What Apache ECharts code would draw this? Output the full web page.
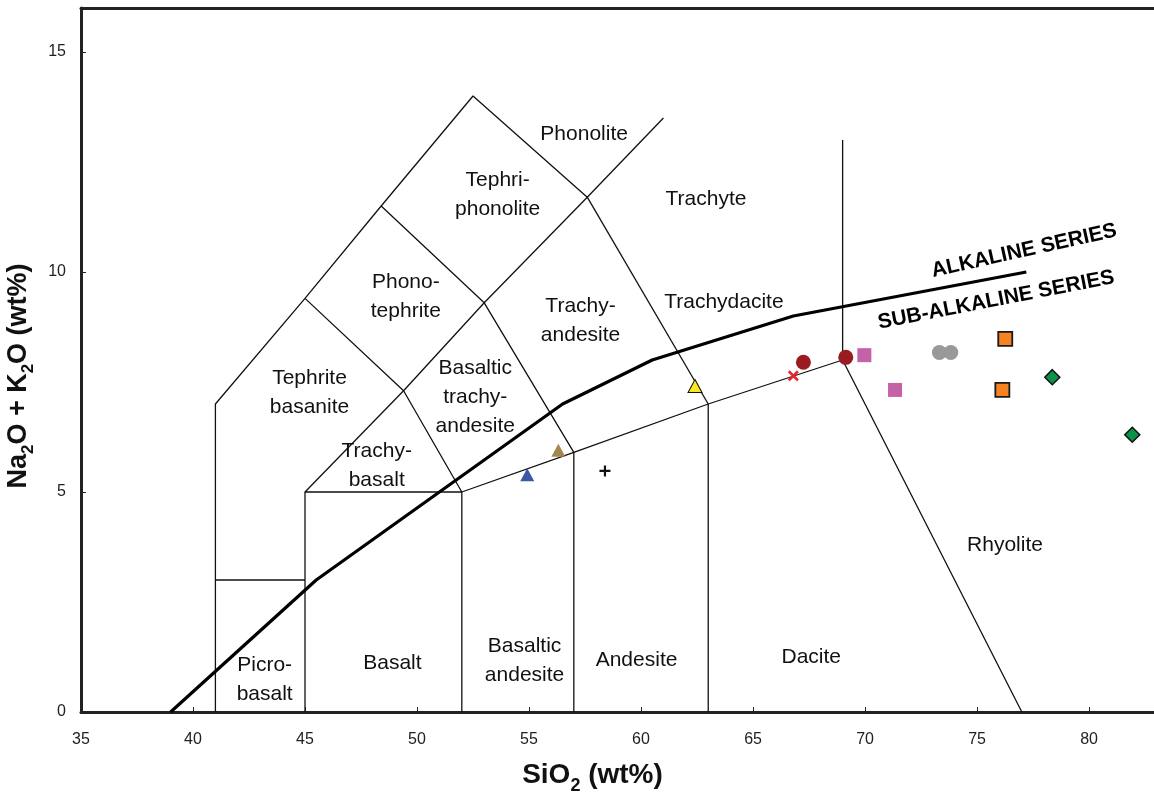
<!DOCTYPE html>
<html><head><meta charset="utf-8">
<script src="https://cdn.jsdelivr.net/npm/echarts@6/dist/echarts.min.js"></script>
<style>html,body{margin:0;padding:0;background:#fff}#c{width:1154px;height:796px}</style>
</head><body><div id="c"></div>
<script>
// Axis ranges / ticks
const xRange = [35, 82.9];
const yRange = [0, 16];
const tickStep = 5;

// TAS field boundaries (SiO2, Na2O+K2O)
const lineOuter = [[41,0],[41,7],[45,9.4],[48.4,11.5],[52.5,14],[57.6,11.7],[61,13.5]];
const linePicro = [[41,3],[45,3]];
const lineLower = [[45,0],[45,5],[52,5],[57,5.9],[63,7],[69,8],[77,0]];
const lineBA = [[52,0],[52,5]];
const lineAnd = [[57,0],[57,5.9]];
const lineDac = [[63,0],[63,7]];
const lineRhy = [[69,8],[69,13]];
const lineTB = [[45,9.4],[49.4,7.3],[52,5]];
const lineTB2 = [[45,5],[49.4,7.3]];
const linePT = [[48.4,11.5],[53,9.3],[57,5.9]];
const lineTA = [[49.4,7.3],[53,9.3],[57.6,11.7]];
const lineTD = [[57.6,11.7],[63,7]];
const fieldLines = [lineOuter, linePicro, lineLower, lineBA, lineAnd, lineDac, lineRhy, lineTB, lineTB2, linePT, lineTA, lineTD];

// Alkaline / sub-alkaline divide
const alkalineLine = [[39,0],[45.5,3],[56.5,7],[60.5,8],[66.8,9],[77.2,10]];

// Field names and their label positions
const fieldNames = ['Phonolite','Tephri-\nphonolite','Trachyte','Phono-\ntephrite','Trachy-\nandesite','Trachydacite','Tephrite\nbasanite','Basaltic\ntrachy-\nandesite','Trachy-\nbasalt','Rhyolite','Picro-\nbasalt','Basalt','Basaltic\nandesite','Andesite','Dacite'];
const fieldPos = [[57.46,13.14],[53.6,11.75],[62.9,11.66],[49.5,9.43],[57.3,8.9],[63.7,9.32],[45.2,7.25],[52.6,7.16],[48.2,5.6],[76.25,3.8],[43.2,0.73],[48.9,1.11],[54.8,1.16],[59.8,1.18],[67.6,1.25]];

// Series divide labels
const seriesNames = ['ALKALINE SERIES','SUB-ALKALINE SERIES'];
const seriesPos = [[77.1,10.48],[75.85,9.36]];
const seriesRot = [12.5,11];

// Sample data
const blueTri = [[54.92,5.39]];
const tanTri = [[56.31,5.95]];
const plusPts = [[58.39,5.48]];
const yellowTri = [[62.41,7.41]];
const redCross = [[66.8,7.64]];
const redCircle = [[67.25,7.95],[69.14,8.06]];
const pinkSquare = [[69.97,8.11],[71.34,7.32]];
const greyCircle = [[73.32,8.17],[73.83,8.17]];
const orangeSquare = [[76.26,8.48],[76.13,7.32]];
const greenDiamond = [[78.36,7.61],[81.93,6.30]];

const plusPath = 'path://M4,0L6,0L6,4L10,4L10,6L6,6L6,10L4,10L4,6L0,6L0,4L4,4Z';
const FONT = "'Liberation Sans', Arial, sans-serif";

const series = [];
fieldLines.forEach(l => series.push({type:'line', data:l, symbol:'none', silent:true, z:2,
  lineStyle:{color:'#111', width:1.3}}));
series.push({type:'line', data:alkalineLine, symbol:'none', silent:true, z:3,
  lineStyle:{color:'#000', width:3.2}});
series.push({type:'scatter', symbolSize:0, silent:true, z:4, itemStyle:{opacity:1},
  data: fieldPos.map((p,i)=>({value:p, name:fieldNames[i]})),
  label:{show:true, position:'inside', formatter:p=>p.name, color:'#111', fontSize:21, lineHeight:29, fontFamily:FONT, align:'center', verticalAlign:'middle'}});
seriesNames.forEach((n,i)=> series.push({type:'scatter', symbolSize:0, silent:true, z:4, itemStyle:{opacity:1},
  data:[{value:seriesPos[i], name:n}],
  label:{show:true, position:'inside', formatter:p=>p.name, rotate:seriesRot[i], color:'#000', fontSize:21, fontWeight:'bold', fontFamily:FONT}}));

function sc(data, symbol, size, color, border, bw, extra){
  return Object.assign({type:'scatter', data, symbol, symbolSize:size, z:5,
    itemStyle:{color, borderColor:border||color, borderWidth:bw||0, opacity:1}}, extra||{});
}
series.push(sc(blueTri,'triangle',[14,13],'#3b57a6'));
series.push(sc(tanTri,'triangle',[14,13],'#a4864f'));
series.push(sc(plusPts,plusPath,11,'#111'));
series.push(sc(yellowTri,'triangle',[14,13],'#f7ea1e','#111',1));
series.push(sc(redCross,plusPath,13,'#e8232b',null,0,{symbolRotate:45}));
series.push(sc(redCircle,'circle',15,'#9a1b20'));
series.push(sc(pinkSquare,'rect',14,'#c362a6'));
series.push(sc(greyCircle,'circle',15,'#999999'));
series.push(sc(orangeSquare,'rect',14,'#f68220','#1a1a1a',1.8));
series.push(sc(greenDiamond,'diamond',[15,15],'#0b9148','#111',1.5));

const axisLineStyle = {show:true, lineStyle:{color:'#222', width:3}};
const rich = fs => ({
  a:{fontSize:fs, fontWeight:'bold', fontFamily:FONT, color:'#111', lineHeight:fs+3, verticalAlign:'top'},
  s:{fontSize:Math.round(fs*0.64), fontWeight:'bold', fontFamily:FONT, color:'#111', lineHeight:Math.round(fs*0.64), padding:[Math.round(fs*0.56),0,0,0], verticalAlign:'top'}
});
const option = {
  animation:false,
  backgroundColor:'#fff',
  grid:{left:81, top:8, width:1073, height:704, containLabel:false, outerBoundsMode:'none'},
  xAxis:[{
    type:'value', min:xRange[0], max:xRange[1], interval:tickStep,
    axisLine:axisLineStyle, splitLine:{show:false},
    axisTick:{show:true, inside:true, length:5, lineStyle:{color:'#222', width:1}},
    axisLabel:{color:'#222', fontSize:16, fontFamily:FONT, margin:20, showMaxLabel:false,
      formatter:v=> v % 5 === 0 ? String(v) : ''},
    name:'{a|SiO}{s|2}{a| (wt%)}', nameLocation:'middle', nameGap:49,
    nameTextStyle:{rich:rich(28), padding:[0,50,0,0]}
  },{
    type:'value', position:'top', min:xRange[0], max:xRange[1],
    axisLine:axisLineStyle, axisTick:{show:false}, axisLabel:{show:false}, splitLine:{show:false}
  }],
  yAxis:{
    type:'value', min:yRange[0], max:yRange[1], interval:tickStep,
    axisLine:axisLineStyle, splitLine:{show:false},
    axisTick:{show:true, inside:true, length:5, lineStyle:{color:'#222', width:1}},
    axisLabel:{color:'#222', fontSize:16, fontFamily:FONT, margin:15, showMaxLabel:false,
      formatter:v=> v % 5 === 0 ? String(v) : ''},
    name:'{a|Na}{s|2}{a|O + K}{s|2}{a|O (wt%)}', nameLocation:'middle', nameGap:27, nameRotate:90,
    nameTextStyle:{rich:rich(27), padding:[12,32,0,0]}
  },
  series
};
const chart = echarts.init(document.getElementById('c'), null, {renderer:'canvas'});
chart.setOption(option);
</script></body></html>
